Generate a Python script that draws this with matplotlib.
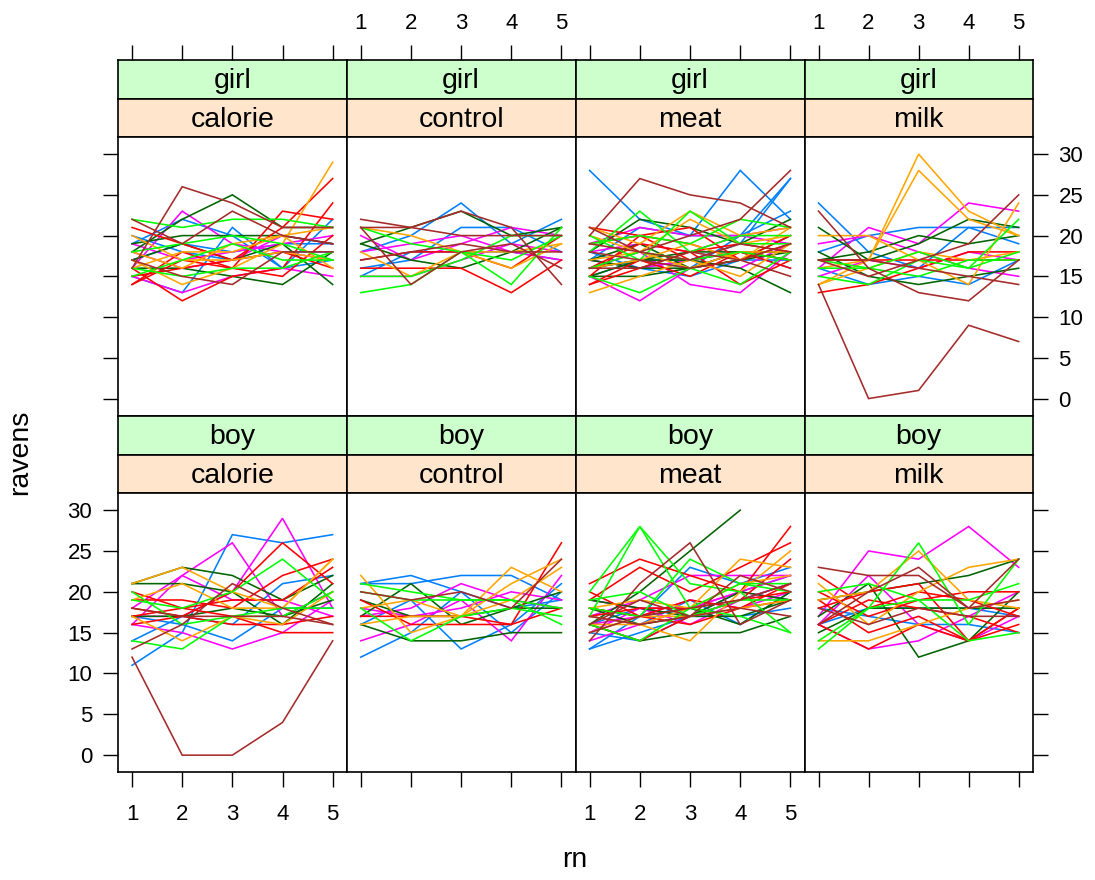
import numpy as np
import matplotlib
matplotlib.use("Agg")
import matplotlib.pyplot as plt

plt.rcParams['font.family'] = ['Liberation Sans', 'DejaVu Sans']

rn = [1, 2, 3, 4, 5]
genders = ["girl", "boy"]
treatments = ["calorie", "control", "meat", "milk"]
palette = ["#0080ff", "#ff00ff", "#006400", "#ff0000", "#ffa500", "#00ff00", "#a52a2a"]
nan = np.nan

# ---- girl ----
girl_calorie_id = [1, 8, 15, 22, 2, 9, 16, 23, 3, 10, 17, 24, 4, 11, 18, 25, 32,
                   5, 12, 19, 26, 6, 13, 20, 27, 7, 14, 21]
girl_calorie_ravens = [
    [19, 22, 20, 16, 22], [15, 13, 21, 16, 17], [20, 18, 17, 18, 18], [17, 19, 18, 19, 19],
    [16, 23, 19, 18, 17], [15, 13, 15, 16, 15], [19, 17, 18, 19, 20], [18, 16, 17, 20, 19],
    [18, 22, 25, 21, 21], [19, 20, 20, 20, 19], [16, 16, 15, 14, 18], [17, 19, 17, 19, 14],
    [15, 16, 17, 21, 27], [14, 18, 16, 23, 22], [16, 12, 15, 16, 24], [21, 19, 17, 18, 16],
    [14, 17, 16, 15, 20],
    [17, 14, 16, 19, 29], [18, 16, 19, 20, 16], [16, 18, 18, 20, 21], [20, 17, 17, 18, 17],
    [22, 21, 22, 22, 21], [15, 17, 19, 17, 17], [16, 15, 16, 16, 18], [18, 19, 20, 19, 17],
    [16, 26, 24, 21, 21], [22, 19, 23, 20, 19], [17, 15, 14, 18, 18],
]

girl_control_id = [1, 8, 15, 2, 9, 16, 3, 10, 4, 11, 5, 12, 6, 13, 20, 7, 14, 21, 28]
girl_control_ravens = [
    [18, 20, 24, 19, 22], [16, 17, 21, 21, 18], [15, 18, 18, 18, 17],
    [20, 17, 19, 21, 20], [18, 19, 20, 18, 17], [15, 15, 17, 19, 18],
    [19, 21, 23, 20, 21], [19, 17, 16, 18, 21],
    [16, 16, 16, 13, 17], [17, 18, 18, 16, 20],
    [21, 20, 18, 16, 19], [18, 15, 18, 18, 19],
    [13, 14, 18, 17, 20], [21, 19, 18, 14, 21], [15, 15, 17, 20, 20],
    [22, 21, 23, 21, 14], [21, 21, 20, 20, 20], [21, 14, 18, 19, 16], [17, 18, 19, 18, 18],
]

girl_meat_id = [1, 8, 15, 22, 29, 36, 2, 9, 16, 23, 30, 3, 10, 17, 24, 31, 38,
                4, 11, 18, 25, 32, 39, 5, 12, 19, 26, 33, 6, 13, 20, 27, 34, 7, 14, 21, 28, 35]
girl_meat_ravens = [
    [28, 22, 20, 28, 22], [16, 17, 17, 19, 27], [15, 17, 16, 20, 27], [17, 21, 20, 20, 23],
    [17, 16, 15, 17, 17], [18, 16, 17, 18, 16],
    [15, 12, 16, 18, 17], [16, 18, 14, 13, 18], [19, 21, 20, 20, 21], [17, 16, 17, 16, 19],
    [18, 19, 18, 20, 19],
    [16, 17, 17, 16, 13], [18, 22, 21, 19, 22], [17, 16, 16, 17, 20], [15, 17, 18, 18, 17],
    [17, 19, 16, 18, 18], [15, 15, 16, 17, 18],
    [14, 16, 18, 14, 17], [15, 20, 21, 17, 19], [21, 20, 19, 17, 20], [14, 17, 15, 18, 17],
    [19, 20, 17, 18, 16], [16, 19, 18, 19, 18],
    [21, 19, 23, 20, 21], [13, 15, 17, 15, 19], [20, 18, 22, 19, 20], [17, 18, 16, 18, 18],
    [16, 17, 19, 17, 21],
    [18, 23, 18, 20, 20], [20, 17, 23, 19, 19], [15, 13, 16, 14, 18], [19, 20, 19, 22, 21],
    [16, 18, 17, 18, 17],
    [20, 27, 25, 24, 21], [21, 18, 20, 22, 28], [18, 17, 16, 17, 15], [16, 16, 18, 17, 19],
    [19, 18, 17, 19, 18],
]

girl_milk_id = [1, 8, 15, 2, 9, 16, 3, 10, 17, 4, 11, 5, 12, 19, 26, 6, 13, 20, 7, 14, 21, 28]
girl_milk_ravens = [
    [24, 18, 16, 21, 21], [18, 20, 21, 21, 19], [16, 14, 15, 14, 17],
    [16, 21, 19, 24, 23], [19, 20, 18, 16, 15], [15, 17, 16, 18, 17],
    [21, 17, 19, 22, 21], [17, 18, 20, 19, 20], [18, 15, 14, 15, 16],
    [13, 14, 16, 18, 18], [17, 17, 17, 17, 17],
    [16, 17, 30, 23, 20], [14, 17, 28, 22, 20], [20, 20, 17, 14, 24], [14, 16, 18, 17, 18],
    [15, 14, 17, 16, 18], [17, 16, 18, 16, 22], [16, 16, 15, 17, 17],
    [14, 0, 1, 9, 7], [23, 16, 13, 12, 17], [17, 15, 17, 19, 25], [17, 17, 16, 15, 14],
]

# ---- boy ----
boy_calorie_id = [1, 8, 15, 2, 9, 16, 23, 3, 10, 17, 4, 11, 18, 25, 32, 5, 12, 19,
                  6, 13, 20, 7, 14, 21]
boy_calorie_ravens = [
    [11, 15, 27, 26, 27], [14, 17, 16, 21, 22], [17, 16, 14, 18, 18],
    [16, 22, 26, 17, 20], [17, 17, 20, 29, 18], [18, 22, 19, 19, 17], [16, 15, 13, 15, 19],
    [21, 23, 22, 19, 22], [21, 21, 20, 16, 21], [17, 17, 18, 17, 19],
    [18, 17, 20, 26, 21], [19, 19, 18, 22, 24], [17, 18, 17, 15, 15], [20, 18, 19, 19, 23],
    [16, 17, 16, 16, 17],
    [21, 23, 20, 18, 24], [19, 21, 18, 18, 24], [17, 14, 17, 16, 20],
    [19, 18, 20, 24, 19], [14, 13, 17, 18, 18], [20, 16, 17, 17, 20],
    [12, 0, 0, 4, 14], [13, 16, 21, 18, 16], [18, 17, 17, 17, 16],
]

boy_control_id = [1, 8, 15, 22, 2, 9, 16, 3, 10, 17, 4, 11, 5, 12, 19, 6, 13, 20, 7]
boy_control_ravens = [
    [12, 15, 20, 18, 19], [21, 22, 20, 15, 20], [16, 19, 13, 16, 21], [21, 21, 22, 22, 19],
    [14, 16, 19, 14, 22], [17, 18, 21, 19, 18], [18, 17, 18, 20, 19],
    [17, 21, 16, 18, 18], [16, 14, 14, 15, 15], [19, 17, 17, 18, 20],
    [19, 16, 16, 16, 26], [17, 17, 17, 16, 18],
    [22, 15, 17, 23, 20], [16, 17, 17, 21, 24], [18, 19, 17, 19, 23],
    [21, 20, 19, 19, 16], [18, 14, 17, 18, 17], [20, 19, 19, 19, 18],
    [20, 19, 20, 18, 24],
]

boy_meat_id = [1, 8, 15, 22, 29, 2, 9, 16, 23, 30, 3, 10, 17, 24, 31,
               4, 11, 18, 25, 32, 39, 5, 12, 19, 33, 6, 13, 20, 27, 34, 7, 14, 21, 35]
boy_meat_ravens = [
    [13, 17, 23, 21, 23], [15, 14, 17, 20, 22], [13, 15, 17, 17, 18], [17, 16, 19, 16, 20],
    [16, 18, 17, 19, 21],
    [17, 19, 22, 22, 22], [15, 18, 16, 19, 21], [19, 18, 18, 20, 19], [16, 17, 19, 18, 20],
    [14, 16, 18, 20, 22],
    [16, 20, 25, 30, nan], [16, 14, 15, 15, 17], [18, 17, 18, 16, 20], [19, 18, 17, 20, 19],
    [18, 16, 17, 17, 19],
    [21, 24, 22, 20, 28], [19, 23, 20, 23, 26], [16, 14, 17, 19, 24], [18, 17, 16, 18, 19],
    [17, 18, 18, 19, 20], [20, 17, 19, 18, 21],
    [17, 16, 14, 20, 25], [16, 16, 18, 24, 23], [15, 17, 17, 18, 19], [18, 19, 18, 21, 22],
    [20, 28, 18, 21, 20], [17, 28, 21, 20, 15], [18, 17, 24, 21, 21], [16, 14, 18, 17, 15],
    [19, 20, 17, 19, 19],
    [14, 21, 26, 16, 19], [16, 19, 17, 22, 20], [17, 16, 17, 18, 17], [15, 17, 18, 19, 21],
]

boy_milk_id = [1, 8, 2, 9, 16, 3, 10, 17, 4, 11, 18, 25, 32, 39, 5, 12, 19, 6, 13, 20, 7, 14, 21]
boy_milk_ravens = [
    [18, 17, 16, 16, 15], [16, 18, 18, 18, 17],
    [17, 25, 24, 28, 23], [16, 22, 16, 14, 17], [16, 13, 14, 17, 20],
    [17, 21, 12, 14, 20], [19, 20, 21, 22, 24], [15, 18, 18, 18, 18],
    [22, 18, 20, 19, 17], [16, 13, 16, 14, 18], [19, 15, 17, 14, 16], [20, 17, 19, 20, 20],
    [16, 19, 18, 17, 15], [18, 20, 21, 14, 18],
    [21, 16, 20, 23, 24], [14, 14, 16, 18, 19], [19, 20, 25, 19, 18],
    [13, 18, 26, 16, 24], [20, 21, 19, 19, 21], [14, 18, 19, 14, 15],
    [23, 22, 22, 18, 24], [16, 20, 23, 18, 19], [18, 16, 18, 17, 17],
]

panels = {
    ("girl", "calorie"): (girl_calorie_id, girl_calorie_ravens),
    ("girl", "control"): (girl_control_id, girl_control_ravens),
    ("girl", "meat"): (girl_meat_id, girl_meat_ravens),
    ("girl", "milk"): (girl_milk_id, girl_milk_ravens),
    ("boy", "calorie"): (boy_calorie_id, boy_calorie_ravens),
    ("boy", "control"): (boy_control_id, boy_control_ravens),
    ("boy", "meat"): (boy_meat_id, boy_meat_ravens),
    ("boy", "milk"): (boy_milk_id, boy_milk_ravens),
}

W, H = 1095, 880
fig = plt.figure(figsize=(W / 100, H / 100), dpi=100)

def fax(x0, y0, x1, y1):
    return fig.add_axes([x0 / W, 1 - y1 / H, (x1 - x0) / W, (y1 - y0) / H])

col_edges = [118, 346.7, 575.5, 804.5, 1032.7]
rows = {  # strip1 top, strip2 top, panel top, panel bottom
    "girl": (60, 99, 137, 415.7),
    "boy": (415.7, 455, 493, 772.3),
}
xlim = (0.72, 5.28)
ylim = (-2.1, 32.1)
yt = [0, 5, 10, 15, 20, 25, 30]
tick_fs = 16
strip_fs = 20.5
spine_lw = 1.2
tick_kw = dict(direction="out", length=10.5, width=1.0, pad=8, labelsize=tick_fs, color="black")

for r, g in enumerate(genders):
    s1, s2, p0, p1 = rows[g]
    for c, t in enumerate(treatments):
        x0, x1 = col_edges[c], col_edges[c + 1]
        # strips
        for (ya, yb, txt, fc) in [(s1, s2, g, "#ccffcc"), (s2, p0, t, "#ffe5cc")]:
            sa = fax(x0, ya, x1, yb)
            sa.set_facecolor(fc)
            sa.set_xlim(xlim)
            sa.set_yticks([])
            sa.set_xticks([])
            for sp in sa.spines.values():
                sp.set_linewidth(spine_lw)
            sa.text(0.5, 0.45, txt, transform=sa.transAxes, ha="center", va="center",
                    fontsize=strip_fs)
            if r == 0 and txt == g:
                sa.set_xticks(rn)
                sa.xaxis.tick_top()
                sa.tick_params(axis="x", **tick_kw)
                if c in (1, 3):
                    sa.set_xticklabels([str(v) for v in rn])
                else:
                    sa.set_xticklabels([])
        # panel
        ax = fax(x0, p0, x1, p1)
        ids, rav = panels[(g, t)]
        for i, vals in zip(ids, rav):
            ax.plot(rn, vals, color=palette[(i - 1) % 7], lw=1.15, solid_joinstyle="miter")
        ax.set_xlim(xlim)
        ax.set_ylim(ylim)
        for sp in ax.spines.values():
            sp.set_linewidth(spine_lw)
        ax.set_xticks(rn)
        ax.set_yticks(yt)
        ax.tick_params(axis="both", **tick_kw)
        # x axis
        if r == 1:
            ax.tick_params(axis="x", bottom=True, top=False, labelbottom=(c in (0, 2)), pad=12)
        else:
            ax.tick_params(axis="x", bottom=False, top=False, labelbottom=False)
        # y axis
        left = c == 0
        right = c == 3
        ax.tick_params(axis="y", left=left, right=right,
                       labelleft=(left and r == 1), labelright=(right and r == 0), pad=8)

fig.text(20 / W, 1 - 452 / H, "ravens", rotation=90, ha="center", va="center", fontsize=strip_fs)
fig.text(575 / W, 1 - 860 / H, "rn", ha="center", va="center", fontsize=strip_fs)

fig.savefig("out.png", dpi=100)
